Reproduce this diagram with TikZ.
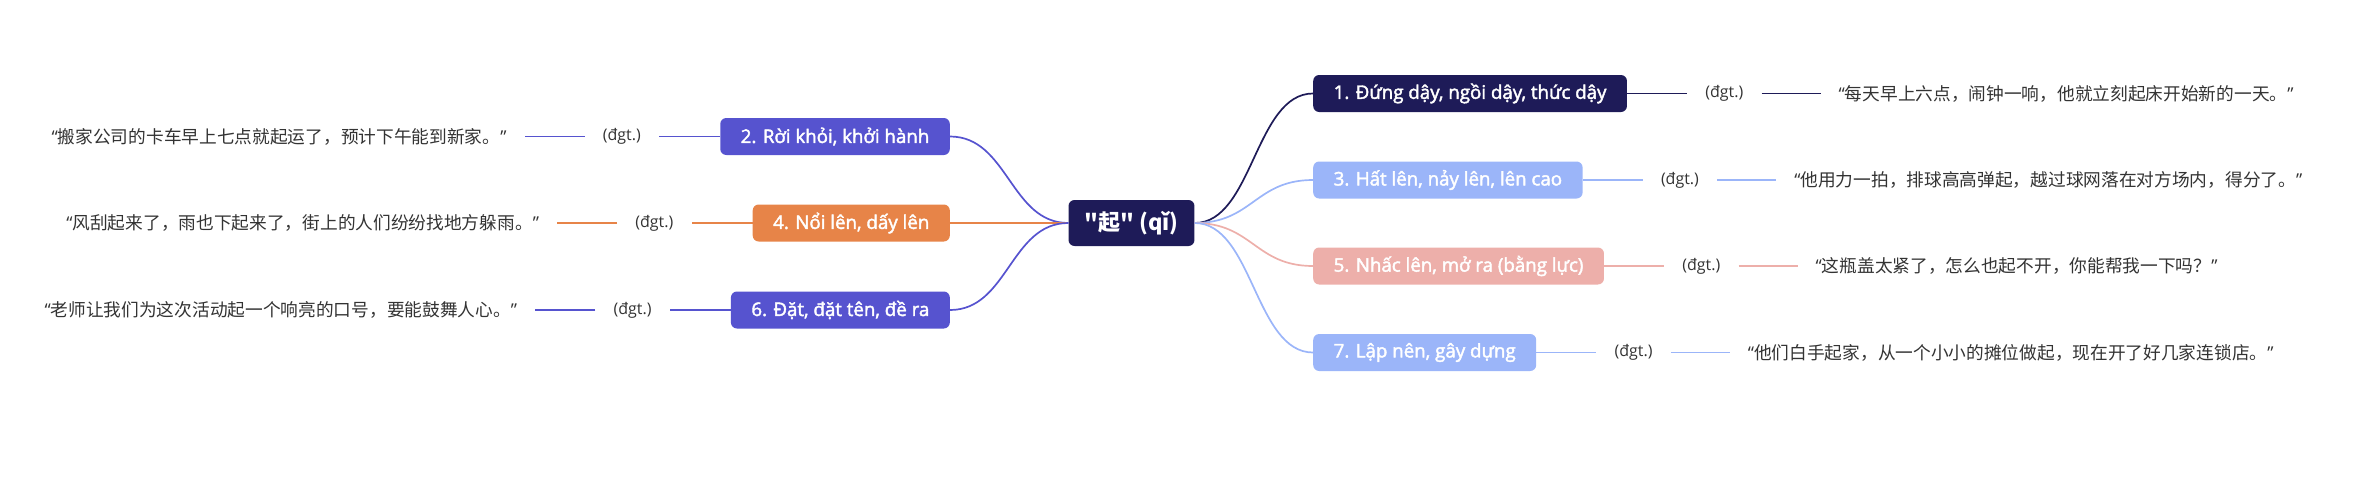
\documentclass[tikz,border=0pt]{standalone}
\usepackage{fontspec}
\setmainfont{Open Sans}
\newfontfamily\vibold{Open Sans}[FakeBold=2.2]
\newfontfamily\cjk{Noto Sans CJK SC}
\usetikzlibrary{positioning}
\definecolor{cnavy}{RGB}{30,27,88}
\definecolor{cviolet}{RGB}{86,83,207}
\definecolor{csky}{RGB}{155,181,249}
\definecolor{corange}{RGB}{231,132,72}
\definecolor{cpink}{RGB}{237,175,170}
\definecolor{ctext}{RGB}{51,51,51}
\newcommand{\oq}{{\rmfamily “}}
\newcommand{\cq}{{\rmfamily ”}}
\tikzstyle{block} = [rectangle, rounded corners=6pt, text=white, minimum height=37pt, inner xsep=20.5pt, inner ysep=0pt, font=\vibold\fontsize{18.7}{20}\selectfont]
\tikzstyle{rootblock} = [block, fill=cnavy, minimum height=46pt, inner xsep=16pt, font=\cjk\bfseries\fontsize{22}{24}\selectfont]
\tikzstyle{wordclass} = [inner xsep=18pt, inner ysep=0pt, text=ctext, font=\fontsize{16}{18}\selectfont]
\tikzstyle{sentence} = [inner xsep=18pt, inner ysep=0pt, text=ctext, font=\cjk\fontsize{17.7}{20}\selectfont]
\tikzstyle{link} = [line width=1.7pt]

\begin{document}
\begin{tikzpicture}[x=1pt, y=-1pt]
  \useasboundingbox (0,0) rectangle (2354,493);
  \node[rootblock] (root) at (1131.5,223) {"起" (qǐ)};
  % right side
  \node[block, fill=cnavy, anchor=west] (m1) at (1313,93.5) {1. Đứng dậy, ngồi dậy, thức dậy};
  \node[wordclass, right=60pt of m1] (t1) {(đgt.)};
  \node[sentence, right=59pt of t1] (s1) {\oq 每天早上六点，闹钟一响，他就立刻起床开始新的一天。\cq};
  \node[block, fill=csky, anchor=west] (m3) at (1313,180) {3. Hất lên, nảy lên, lên cao};
  \node[wordclass, right=60pt of m3] (t3) {(đgt.)};
  \node[sentence, right=59pt of t3] (s3) {\oq 他用力一拍，排球高高弹起，越过球网落在对方场内，得分了。\cq};
  \node[block, fill=cpink, anchor=west] (m5) at (1313,266) {5. Nhấc lên, mở ra (bằng lực)};
  \node[wordclass, right=60pt of m5] (t5) {(đgt.)};
  \node[sentence, right=59pt of t5] (s5) {\oq 这瓶盖太紧了，怎么也起不开，你能帮我一下吗？\cq};
  \node[block, fill=csky, anchor=west] (m7) at (1313,352.5) {7. Lập nên, gây dựng};
  \node[wordclass, right=60pt of m7] (t7) {(đgt.)};
  \node[sentence, right=59pt of t7] (s7) {\oq 他们白手起家，从一个小小的摊位做起，现在开了好几家连锁店。\cq};
  % left side
  \node[block, fill=cviolet, anchor=east] (m2) at (950,136.5) {2. Rời khỏi, khởi hành};
  \node[wordclass, left=61pt of m2] (t2) {(đgt.)};
  \node[sentence, left=60pt of t2] (s2) {\oq 搬家公司的卡车早上七点就起运了，预计下午能到新家。\cq};
  \node[block, fill=corange, anchor=east] (m4) at (950,223) {4. Nổi lên, dấy lên};
  \node[wordclass, left=61pt of m4] (t4) {(đgt.)};
  \node[sentence, left=60pt of t4] (s4) {\oq 风刮起来了，雨也下起来了，街上的人们纷纷找地方躲雨。\cq};
  \node[block, fill=cviolet, anchor=east] (m6) at (950,310) {6. Đặt, đặt tên, đề ra};
  \node[wordclass, left=61pt of m6] (t6) {(đgt.)};
  \node[sentence, left=60pt of t6] (s6) {\oq 老师让我们为这次活动起一个响亮的口号，要能鼓舞人心。\cq};
  % branches
  \draw[link, cnavy] (root.east) .. controls +(58,0) and +(-58,0) .. (m1.west);
  \draw[link, csky] (root.east) .. controls +(58,0) and +(-58,0) .. (m3.west);
  \draw[link, cpink] (root.east) .. controls +(58,0) and +(-58,0) .. (m5.west);
  \draw[link, csky] (root.east) .. controls +(58,0) and +(-58,0) .. (m7.west);
  \draw[link, cviolet] (root.west) .. controls +(-58,0) and +(58,0) .. (m2.east);
  \draw[link, corange] (root.west) -- (m4.east);
  \draw[link, cviolet] (root.west) .. controls +(-58,0) and +(58,0) .. (m6.east);
  \draw[link, cnavy] (m1) -- (t1);
  \draw[link, cnavy] (t1) -- (s1);
  \draw[link, csky] (m3) -- (t3);
  \draw[link, csky] (t3) -- (s3);
  \draw[link, cpink] (m5) -- (t5);
  \draw[link, cpink] (t5) -- (s5);
  \draw[link, csky] (m7) -- (t7);
  \draw[link, csky] (t7) -- (s7);
  \draw[link, cviolet] (m2) -- (t2);
  \draw[link, cviolet] (t2) -- (s2);
  \draw[link, corange] (m4) -- (t4);
  \draw[link, corange] (t4) -- (s4);
  \draw[link, cviolet] (m6) -- (t6);
  \draw[link, cviolet] (t6) -- (s6);
\end{tikzpicture}
\end{document}
